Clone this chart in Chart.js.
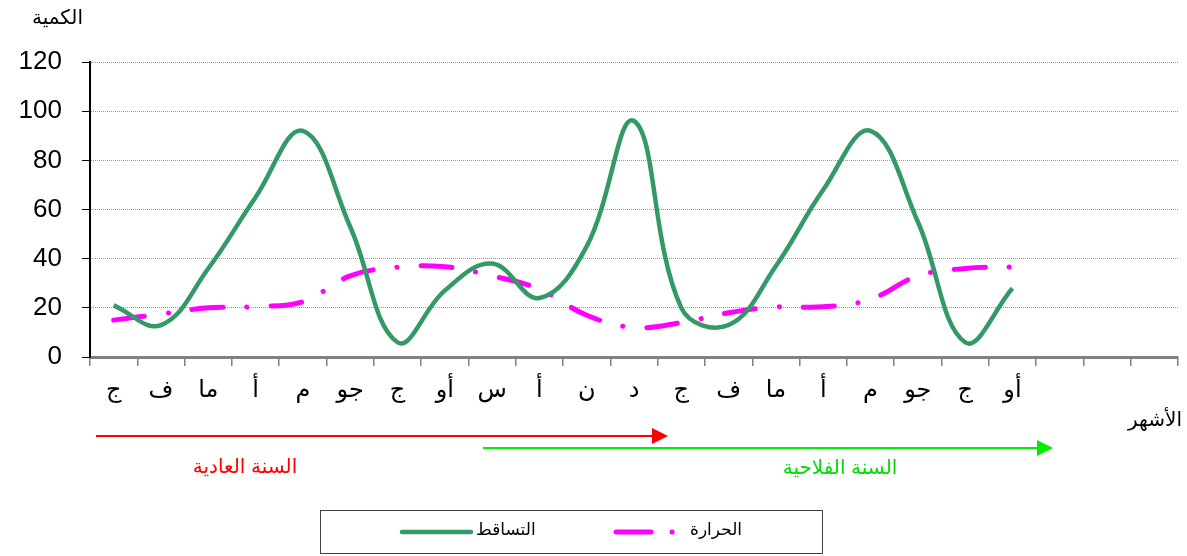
<!DOCTYPE html>
<html>
<head>
<meta charset="utf-8">
<script src="https://cdn.jsdelivr.net/npm/chart.js@4/dist/chart.umd.min.js"></script>
<style>
  body { margin: 0; background: #ffffff; }
  canvas { display: block; }
</style>
</head>
<body>
<canvas id="rainChart" width="1187" height="556"></canvas>
<script>
/* ========== DATA ========== */

const months = [
  "ج","ف","ما","أ","م","جو","ج","أو","س","أ","ن","د",
  "ج","ف","ما","أ","م","جو","ج","أو","","",""
];

const precipitation = [
  21,13,36,65,92,53,6,27,38,24,45,96,
  20,13,37,68,92,55,6,28
];

const temperature = [
  15,17.5,20,20.5,22.5,33,36.5,36.7,33,27.6,17,12,
  14,18,20.4,20.4,23.5,33,36,36.6
];

const yTicks = [0,20,40,60,80,100,120];

const FONT = "'Liberation Sans', Arial, 'DejaVu Sans', sans-serif";


/* ========== ANNOTATIONS (titles, arrows, legend) ========== */

function arrow(ctx, x1, x2, y, color){
  ctx.save();
  ctx.strokeStyle = color;
  ctx.fillStyle = color;
  ctx.lineWidth = 2;
  ctx.beginPath();
  ctx.moveTo(x1, y);
  ctx.lineTo(x2 - 14, y);
  ctx.stroke();
  ctx.beginPath();
  ctx.moveTo(x2, y);
  ctx.lineTo(x2 - 16, y - 8);
  ctx.lineTo(x2 - 16, y + 8);
  ctx.closePath();
  ctx.fill();
  ctx.restore();
}

const extras = {
  id: "extras",
  afterDraw(chart){
    const ctx = chart.ctx;
    const ds = chart.data.datasets;

    ctx.save();
    ctx.textBaseline = "middle";

    // axis titles
    ctx.fillStyle = "#000";
    ctx.font = "20px " + FONT;
    ctx.textAlign = "right";
    ctx.fillText("الكمية", 83, 18);
    ctx.fillText("الأشهر", 1182, 420);

    // year arrows
    arrow(ctx, 96, 668, 436, "#ff0000");
    arrow(ctx, 483, 1053, 448, "#00ee00");

    ctx.textAlign = "center";
    ctx.fillStyle = "#ff0000";
    ctx.fillText("السنة العادية", 245, 467);
    ctx.fillStyle = "#00dd00";
    ctx.fillText("السنة الفلاحية", 840, 468);

    // legend box
    ctx.strokeStyle = "#404040";
    ctx.lineWidth = 1;
    ctx.strokeRect(320.5, 510.5, 502, 43);

    ctx.lineCap = "round";
    ctx.strokeStyle = ds[0].borderColor;
    ctx.lineWidth = ds[0].borderWidth;
    ctx.beginPath();
    ctx.moveTo(402, 532);
    ctx.lineTo(471, 532);
    ctx.stroke();

    ctx.strokeStyle = ds[1].borderColor;
    ctx.lineWidth = ds[1].borderWidth;
    ctx.beginPath();
    ctx.moveTo(616, 532);
    ctx.lineTo(651, 532);
    ctx.stroke();
    ctx.beginPath();
    ctx.moveTo(672, 532);
    ctx.lineTo(672.1, 532);
    ctx.stroke();

    ctx.fillStyle = "#000";
    ctx.font = "17px " + FONT;
    ctx.textAlign = "left";
    ctx.fillText(ds[0].label, 476, 530);
    ctx.fillText(ds[1].label, 690, 530);

    ctx.restore();
  }
};


/* ========== CHART ========== */

const ctx = document.getElementById("rainChart").getContext("2d");

new Chart(ctx, {
  type: "line",
  data: {
    labels: months,
    datasets: [
      {
        label: "التساقط",
        data: precipitation,
        borderColor: "#339966",
        borderWidth: 4.5,
        tension: 0.4,
        pointRadius: 0,
        fill: false
      },
      {
        label: "الحرارة",
        data: temperature,
        borderColor: "#ff00ff",
        borderWidth: 5,
        borderDash: [31, 24, 0.1, 24],
        borderCapStyle: "round",
        tension: 0.4,
        pointRadius: 0,
        fill: false
      }
    ]
  },
  options: {
    responsive: false,
    animation: false,
    layout: {
      padding: { top: 62, right: 9, bottom: 0, left: 0 }
    },
    plugins: {
      legend: { display: false },
      tooltip: { enabled: false }
    },
    scales: {
      x: {
        offset: true,
        grid: {
          offset: true,
          drawOnChartArea: false,
          drawTicks: true,
          tickLength: 9,
          color: "#808080",
          lineWidth: 1.5
        },
        border: { color: "#808080", width: 3 },
        ticks: {
          autoSkip: false,
          maxRotation: 0,
          padding: 10,
          color: "#000",
          font: { family: FONT, size: 24 }
        },
        afterFit(scale){ scale.height = 199; }
      },
      y: {
        min: 0,
        max: 120,
        afterBuildTicks(scale){
          scale.ticks = yTicks.map(v => ({ value: v }));
        },
        grid: {
          color: "#999999",
          lineWidth: 1,
          tickLength: 8,
          tickColor: "#000",
          drawTicks: true
        },
        border: { color: "#000", width: 2, dash: [1, 1] },
        ticks: {
          padding: 20,
          color: "#000",
          font: { family: FONT, size: 26 }
        },
        afterFit(scale){ scale.width = 90; }
      }
    }
  },
  plugins: [extras]
});
</script>
</body>
</html>
